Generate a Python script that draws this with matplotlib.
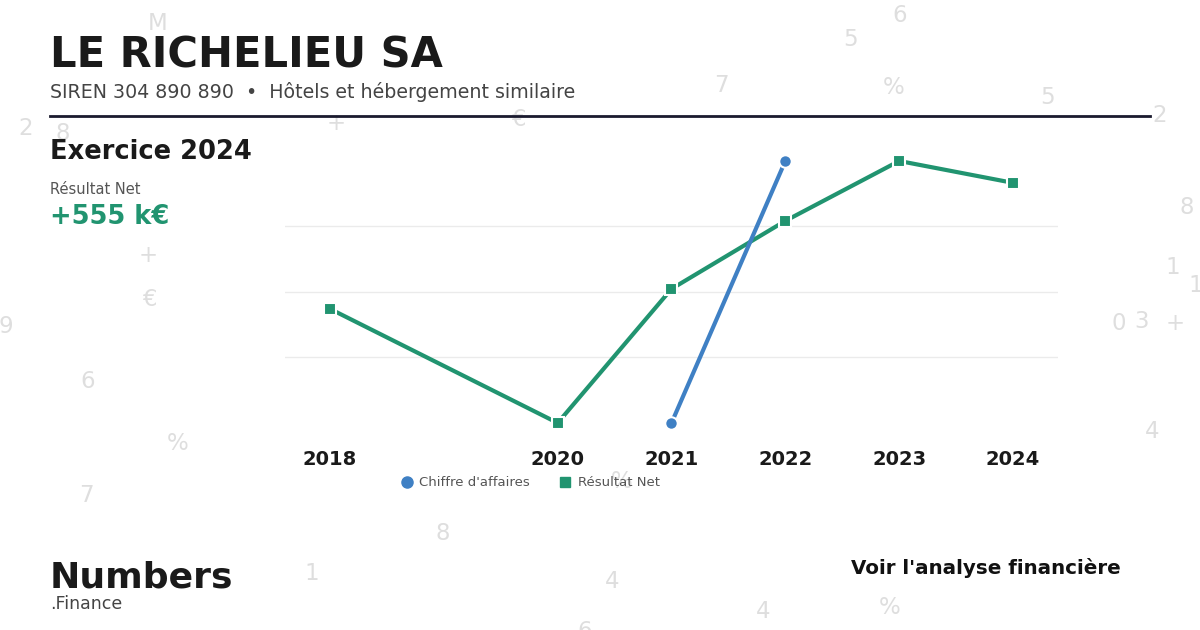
import matplotlib
matplotlib.use("Agg")
import matplotlib.pyplot as plt
from matplotlib.lines import Line2D

# données (k€)
annees_ca = [2021, 2022]
chiffre_affaires = [4200, 5800]
annees_rn = [2018, 2020, 2021, 2022, 2023, 2024]
resultat_net = [290, 50, 332, 475, 601, 555]
ticks_annees = [2018, 2020, 2021, 2022, 2023, 2024]

VERT = "#219470"
BLEU = "#3f80c4"
NOIR = "#1a1a1a"

# décor : chiffres pâles en fond (x px, y px, caractère)
decor = [(158, 24, "M"), (851, 40, "5"), (900, 16, "6"), (894, 87, "%"),
         (721, 86, "7"), (1047, 97, "5"), (1160, 116, "2"), (26, 129, "2"),
         (63, 133, "8"), (336, 123, "+"), (518, 120, "€"), (1187, 208, "8"),
         (148, 256, "+"), (149, 300, "€"), (1173, 267, "1"), (1196, 286, "1"),
         (6, 326, "9"), (1119, 324, "0"), (1142, 321, "3"), (1175, 323, "+"),
         (88, 381, "6"), (178, 444, "%"), (1152, 431, "4"), (86, 496, "7"),
         (622, 482, "%"), (443, 533, "8"), (312, 573, "1"), (612, 582, "4"),
         (763, 611, "4"), (890, 607, "%"), (585, 632, "6")]

W, H = 1200, 630
fig = plt.figure(figsize=(12, 6.3), dpi=100)
fig.patch.set_facecolor("white")

for x, y, c in decor:
    fig.text(x / W, 1 - y / H, c, fontsize=16.5, color="#dedede",
             ha="center", va="center", zorder=0)


def limites(vals):
    lo, hi = min(vals), max(vals)
    span = hi - lo
    return lo, hi, span


# axes : x 285 -> 1058 px, y 145 -> 440 px
ax = fig.add_axes([285 / W, 1 - 440 / H, (1058 - 285) / W, (440 - 145) / H])
ax.patch.set_visible(False)
ax2 = ax.twinx()
ax2.patch.set_visible(False)

for a, vals in ((ax, resultat_net), (ax2, chiffre_affaires)):
    lo, hi, span = limites(vals)
    a.set_ylim(lo - 0.065 * span, hi + 0.061 * span)
    a.set_xlim(2017.605, 2024.395)
    for s in a.spines.values():
        s.set_visible(False)
    a.tick_params(length=0, labelleft=False, labelright=False)

lo, hi, span = limites(resultat_net)
ax.set_yticks([lo + span * f for f in (0.25, 0.5, 0.75)])
ax.grid(axis="y", color="#ebebeb", linewidth=1)
ax.set_xticks(ticks_annees)
ax.set_xticklabels([str(t) for t in ticks_annees], fontsize=14,
                   fontweight="bold", color=NOIR)
ax.tick_params(axis="x", pad=7)

ax.plot(annees_rn, resultat_net, color=VERT, linewidth=3, marker="s",
        markersize=9, markeredgecolor="white", markeredgewidth=1.5)
ax2.plot(annees_ca, chiffre_affaires, color=BLEU, linewidth=3, marker="o",
         markersize=9, markeredgecolor="white", markeredgewidth=1.5)

poignees = [Line2D([], [], linestyle="none", marker="o", color=BLEU, markersize=8),
            Line2D([], [], linestyle="none", marker="s", color=VERT, markersize=7)]
leg = fig.legend(poignees, ["Chiffre d'affaires", "Résultat Net"],
                 loc="center", bbox_to_anchor=(530 / W, 1 - 483 / H), ncol=2,
                 frameon=False, fontsize=9.5, handletextpad=0.45,
                 columnspacing=2.2, handlelength=1)
for t in leg.get_texts():
    t.set_color("#555555")

# en-tête
fig.text(50 / W, 1 - 56 / H, "LE RICHELIEU SA", fontsize=30, fontweight="bold",
         color=NOIR, va="center")
fig.text(50 / W, 1 - 92 / H,
         "SIREN 304 890 890  \u2022  Hôtels et hébergement similaire",
         fontsize=13.7, color="#444444", va="center")
fig.add_artist(Line2D([50 / W, 1150 / W], [1 - 116 / H, 1 - 116 / H],
                      color="#1a1a2e", linewidth=2))
fig.text(50 / W, 1 - 152 / H, "Exercice 2024", fontsize=18.5,
         fontweight="bold", color=NOIR, va="center")
fig.text(50 / W, 1 - 189 / H, "Résultat Net", fontsize=10.5,
         color="#555555", va="center")
fig.text(50 / W, 1 - 217 / H, "+555 k€", fontsize=18.5, fontweight="bold",
         color=VERT, va="center")

# pied de page
fig.text(50 / W, 1 - 577 / H, "Numbers", fontsize=26, fontweight="bold",
         color=NOIR, va="center")
fig.text(50 / W, 1 - 604 / H, ".Finance", fontsize=12.5, color="#444444",
         va="center")
fig.text(1121 / W, 1 - 568 / H, "Voir l'analyse financière", fontsize=14.3,
         fontweight="bold", color="#111111", va="center", ha="right")

fig.savefig("out.png", dpi=100, facecolor="white")
